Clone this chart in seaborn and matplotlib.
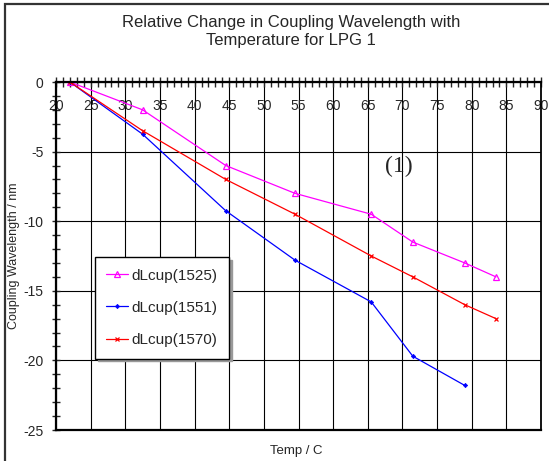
import pandas as pd
import seaborn as sns
import matplotlib.pyplot as plt
from matplotlib.patches import Rectangle
from matplotlib.ticker import MultipleLocator

# Data
temp_1525 = [22, 32.5, 44.5, 54.5, 65.5, 71.5, 79, 83.5]
dl_1525 = [0, -2.0, -6.0, -8.0, -9.5, -11.5, -13.0, -14.0]

temp_1551 = [22, 32.5, 44.5, 54.5, 65.5, 71.5, 79]
dl_1551 = [0, -3.75, -9.25, -12.8, -15.8, -19.7, -21.8]

temp_1570 = [22, 32.5, 44.5, 54.5, 65.5, 71.5, 79, 83.5]
dl_1570 = [0, -3.5, -7.0, -9.5, -12.5, -14.0, -16.0, -17.0]

series_names = ['dLcup(1525)', 'dLcup(1551)', 'dLcup(1570)']
x_ticks = list(range(20, 91, 5))
y_ticks = list(range(-25, 1, 5))

df = pd.concat([
    pd.DataFrame({'temp': temp_1525, 'dl': dl_1525, 'series': series_names[0]}),
    pd.DataFrame({'temp': temp_1551, 'dl': dl_1551, 'series': series_names[1]}),
    pd.DataFrame({'temp': temp_1570, 'dl': dl_1570, 'series': series_names[2]}),
])

sns.set_style('white')
plt.rcParams['font.family'] = ['Liberation Sans', 'DejaVu Sans']
plt.rcParams['axes.unicode_minus'] = False

fig = plt.figure(figsize=(5.49, 4.61), dpi=100)
ax = fig.add_axes([56 / 549, 1 - 430 / 461, 485 / 549, 348 / 461])

# seaborn puts white marker edges by default, so set them explicitly
styles = {
    'dLcup(1525)': dict(color='#FF00FF', marker='^', ms=4, mfc='none', mec='#FF00FF', mew=0.9),
    'dLcup(1551)': dict(color='#0000FF', marker='D', ms=2.2, mfc='#0000FF', mec='#0000FF', mew=0.5),
    'dLcup(1570)': dict(color='#FF0000', marker='x', ms=3.5, mec='#FF0000', mew=0.9),
}
for name in series_names:
    sub = df[df['series'] == name]
    sns.lineplot(data=sub, x='temp', y='dl', ax=ax, label=name, lw=0.9,
                 sort=False, **styles[name])

ax.set_xlim(20, 90)
ax.set_ylim(-25, 0)
ax.set_xticks(x_ticks)
ax.set_yticks(y_ticks)
ax.xaxis.set_minor_locator(MultipleLocator(1))
ax.yaxis.set_minor_locator(MultipleLocator(1))
ax.grid(True, which='major', color='black', lw=0.8)

# x axis sits on y=0 at the top, labels drawn just below it
ax.xaxis.tick_top()
ax.tick_params(axis='x', which='both', direction='inout', length=7, width=1,
               top=True, bottom=False, labeltop=True, labelbottom=False,
               pad=-26, labelsize=10)
ax.tick_params(axis='y', which='both', direction='inout', length=6, width=1,
               left=True, pad=6, labelsize=10)

for side, w in [('top', 1.6), ('left', 1.6), ('bottom', 1.6), ('right', 1.3)]:
    ax.spines[side].set_visible(True)
    ax.spines[side].set_color('black')
    ax.spines[side].set_linewidth(w)

ax.set_xlabel('')
ax.set_ylabel('Coupling Wavelength / nm', fontsize=9, labelpad=2)
fig.text(296 / 549, 1 - 451 / 461, 'Temp / C', ha='center', va='center', fontsize=9.5)

fig.text(291 / 549, 1 - 32 / 461,
         'Relative Change in Coupling Wavelength with\nTemperature for LPG 1',
         ha='center', va='center', fontsize=12, linespacing=1.25)

ax.text(69.5, -6.1, '(1)', family=['Liberation Serif', 'DejaVu Serif'],
        fontsize=17, ha='center', va='center')

leg = ax.legend(loc='upper left', bbox_to_anchor=(0.08, 0.497), fontsize=11,
                frameon=True, fancybox=False, edgecolor='black',
                labelspacing=1.2, handlelength=1.4, handletextpad=0.25,
                borderpad=0.75, borderaxespad=0,
                shadow={'ox': 2, 'oy': -2, 'color': '#999999', 'alpha': 1})
leg.get_frame().set_linewidth(1)

fig.add_artist(Rectangle((5 / 549, -0.1), 1.2, 1.1 - 4 / 461, transform=fig.transFigure,
                         fill=False, lw=1.6, ec='#333333'))

fig.savefig('out.png', dpi=100)
